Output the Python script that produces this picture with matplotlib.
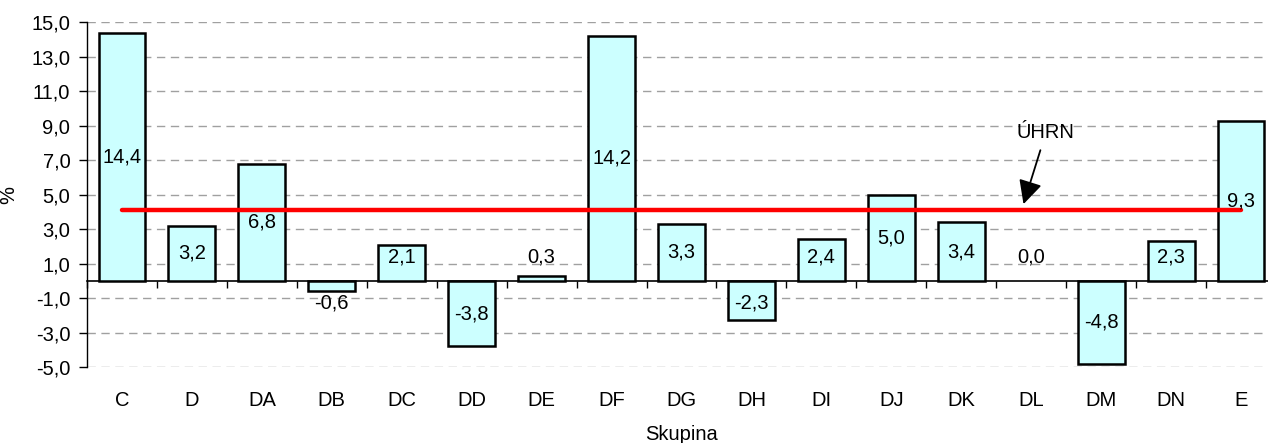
import matplotlib.pyplot as plt
import numpy as np

skupiny = ['C', 'D', 'DA', 'DB', 'DC', 'DD', 'DE', 'DF', 'DG', 'DH', 'DI',
           'DJ', 'DK', 'DL', 'DM', 'DN', 'E']
hodnoty = [14.4, 3.2, 6.8, -0.6, 2.1, -3.8, 0.3, 14.2, 3.3, -2.3, 2.4,
           5.0, 3.4, 0.0, -4.8, 2.3, 9.3]
uhrn = 4.1
y_ticks = [-5, -3, -1, 1, 3, 5, 7, 9, 11, 13, 15]

plt.rcParams['font.family'] = ['Liberation Sans', 'DejaVu Sans']
fs = 14.5

fig = plt.figure(figsize=(12.68, 4.43), dpi=100)
ax = fig.add_axes([87 / 1268, 76 / 443, 1189 / 1268, 344.7 / 443])

x = np.arange(len(skupiny))
ax.bar(x, hodnoty, width=0.67, color='#CCFFFF', edgecolor='black',
       linewidth=[1.8 if v != 0 else 0 for v in hodnoty], zorder=3)

# popisky hodnot
for xi, v in zip(x, hodnoty):
    if v >= 0:
        y = max(v / 2, 1.4)
    else:
        y = min(v / 2, -1.3)
    ax.text(xi, y, f'{v:.1f}'.replace('.', ','), ha='center', va='center',
            fontsize=fs, zorder=5)

# uhrn
ax.plot([x[0], x[-1]], [uhrn, uhrn], color='#FF0000', lw=3.2,
        solid_capstyle='round', zorder=4)
ax.annotate('ÚHRN', xy=(12.89, 4.45), xytext=(13.21, 8.6), fontsize=fs,
            ha='center', va='center',
            arrowprops=dict(arrowstyle='-|>,head_length=0.72,head_width=0.36',
                            color='black', lw=1.3,
                            mutation_scale=20, shrinkA=4, shrinkB=0))

ax.set_xlim(-0.5, len(skupiny) - 0.5)
ax.set_ylim(-5, 15)
ax.set_yticks(y_ticks)
ax.set_yticklabels([f'{t:.1f}'.replace('.', ',') for t in y_ticks], fontsize=fs)
ax.yaxis.grid(True, color='#A0A0A0', linestyle=(0, (6, 4)), lw=1)
ax.set_axisbelow(True)

for s in ['top', 'right', 'bottom']:
    ax.spines[s].set_visible(False)
ax.spines['left'].set_linewidth(1)
ax.tick_params(axis='y', length=6, width=1, pad=6)

ax.set_xticks(x)
ax.set_xticklabels(skupiny, fontsize=fs)
ax.tick_params(axis='x', length=0, pad=17)

# osa v nule
sec = ax.secondary_xaxis(5 / 20)
sec.set_xticks(np.arange(-0.5, len(skupiny), 1.0))
sec.set_xticklabels([])
sec.tick_params(length=5, width=1)
sec.spines['bottom'].set_linewidth(1.2)

ax.set_ylabel('%', fontsize=fs)
ax.yaxis.set_label_coords(-0.058, 0.5)
ax.set_xlabel('Skupina', fontsize=fs)
ax.xaxis.set_label_coords(0.5, -0.168)

fig.savefig('out.png', dpi=100)
